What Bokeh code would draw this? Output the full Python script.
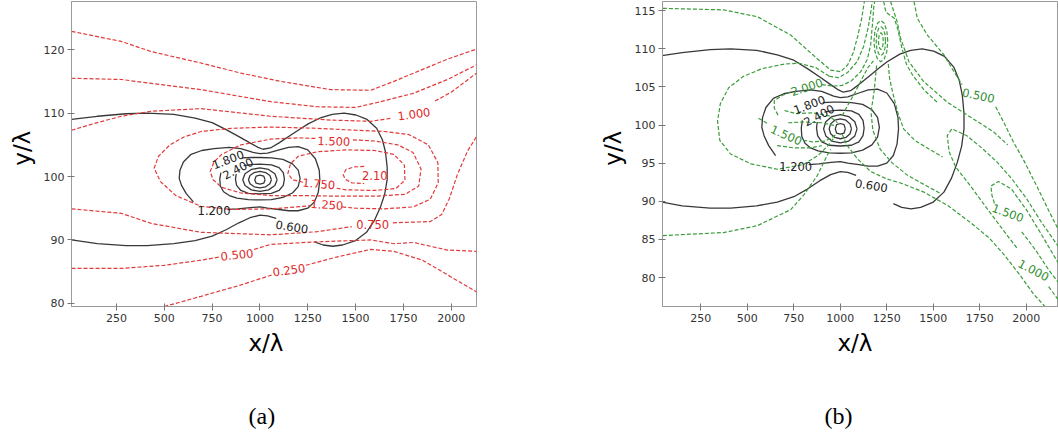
from bokeh.plotting import figure
from bokeh.layouts import row
from bokeh.models import Title, FixedTicker, Range1d
from bokeh.core.properties import value
from bokeh.embed import file_html
from bokeh.resources import INLINE

# ---------------- axes / ticks ----------------
X_TICKS = [250, 500, 750, 1000, 1250, 1500, 1750, 2000]
Y_TICKS_A = [80, 90, 100, 110, 120]
Y_TICKS_B = [80, 85, 90, 95, 100, 105, 110, 115]

# ---------------- black contours (same field in both panels) ----------------
K600_UPPER = [(15,109.0),(150,109.5),(300,109.9),(410,110.0),(550,109.8),(661,109.2),(750,108.5),(823,107.4),
              (890,106.3),(948,105.3),(990,104.6),(1016,104.3),(1055,104.5),(1100,105.3),(1160,106.5),(1210,107.5),
              (1252,108.3),(1320,109.3),(1378,109.8),(1440,110.0),(1502,109.7),(1560,109.0),(1610,107.6),(1640,105.8),
              (1656,103.9),(1665,101.5),(1665,99.5),(1652,97.2),(1629,95.1),(1597,93.0),(1557,91.2),(1500,89.9),
              (1432,89.2),(1380,89.0),(1330,89.2),(1285,89.7)]
K600_LOWER = [(15,90.0),(150,89.4),(300,89.1),(410,89.1),(550,89.4),(661,89.9),(750,90.6),(823,91.6),(890,92.7),
              (948,93.5),(1000,93.9),(1040,93.8),(1085,93.4)]
K1200 = [(830,94.8),(885,94.9),(950,95.1),(1000,95.2),(1040,95.0),(1100,94.8),(1150,94.6),(1200,94.6),(1250,95.0),
         (1285,96.0),(1305,97.5),(1313,99.5),(1310,101.0),(1290,102.8),(1250,104.2),(1200,104.7),(1150,104.6),
         (1100,104.2),(1040,103.7),(1000,103.6),(964,103.8),(900,104.4),(839,104.6),(760,104.4),(696,104.1),
         (640,103.5),(600,102.3),(582,101.0),(578,99.7),(590,98.6),(615,97.3),(652,96.0)]
K1800 = [(905,102.95),(960,103.0),(1000,103.0),(1060,102.95),(1120,102.7),(1170,102.0),(1200,101.0),(1210,99.7),
         (1200,98.4),(1170,97.4),(1120,96.7),(1060,96.35),(1000,96.3),(940,96.35),(880,96.6),(840,97.0),(810,97.6),
         (793,98.5),(790,99.6),(796,100.6)]
K2400 = [(915,101.7),(960,101.9),(1000,101.95),(1060,101.85),(1100,101.4),(1122,100.6),(1128,99.6),(1122,98.6),
         (1100,97.8),(1060,97.35),(1000,97.25),(940,97.35),(900,97.8),(878,98.6),(872,99.6),(876,100.4)]
K3000 = [(1090,99.5),(1078,100.43),(1045,101.11),(1000,101.35),(955,101.11),(922,100.43),(910,99.5),(922,98.57),
         (955,97.89),(1000,97.65),(1045,97.89),(1078,98.57),(1090,99.5)]
K3600 = [(1060,99.5),(1052,100.15),(1030,100.63),(1000,100.8),(970,100.63),(948,100.15),(940,99.5),(948,98.85),
         (970,98.37),(1000,98.2),(1030,98.37),(1052,98.85),(1060,99.5)]
K4200 = [(1027,99.5),(1020,100.05),(1000,100.2),(980,100.05),(973,99.5),(980,98.95),(1000,98.8),(1020,98.95),(1027,99.5)]

BLACK_LABEL_TEXT = ["1.800", "2.400", "1.200", "0.600"]
BLACK_LABEL_X = [833, 885, 760, 1167]
BLACK_LABEL_Y = [102.7, 101.3, 94.6, 92.1]
BLACK_LABEL_ANGLE = [21, 28, 0, -9]

# ---------------- red dashed contours, panel (a) ----------------
RA1 = [(15,122.9),(275,121.3),(432,119.7),(692,117.9),(901,116.3),(1109,115.0),(1370,113.7),(1579,113.6),
       (1700,115.0),(1803,116.3),(1980,118.5),(2132,120.1)]
RA2 = [(15,115.5),(275,115.3),(432,114.7),(692,113.7),(1057,111.8),(1300,111.0),(1500,110.9),(1631,111.8),
       (1800,113.1),(1980,115.3),(2132,117.6)]
RA3_L = [(15,107.3),(150,108.5),(275,109.5),(432,110.3),(692,110.7),(1057,109.5),(1370,108.9),(1579,108.7),(1690,109.2)]
RA3_R = [(1915,111.9),(2000,113.3),(2132,116.3)]
RA4 = [(1430,95.2),(1500,95.0),(1650,94.9),(1800,95.2),(1890,96.4),(1932,99.0),(1930,102.2),(1880,105.0),
       (1780,106.6),(1650,107.1),(1500,107.3),(1300,107.6),(1057,107.8),(850,107.6),(692,107.1),(600,106.2),
       (530,105.0),(470,103.2),(447,101.3),(480,99.2),(560,97.0),(692,95.3),(850,94.8),(1057,94.9),(1150,95.1),(1265,95.4)]
RA5 = [(1290,106.0),(1200,106.1),(1057,105.9),(901,105.0),(800,103.5),(760,102.3),(740,100.8),(755,99.5),
       (800,98.3),(900,97.4),(1057,97.0),(1200,97.0),(1400,96.9),(1600,96.9),(1760,97.2),(1830,98.5),(1842,101.2),
       (1800,103.8),(1720,105.0),(1600,105.6),(1475,105.8)]
RA6 = [(1225,99.1),(1170,99.5),(1146,100.5),(1160,102.0),(1200,103.2),(1300,103.9),(1450,104.2),(1600,104.1),
       (1700,103.5),(1755,101.8),(1758,99.4),(1710,98.1),(1600,97.8),(1450,97.9),(1390,98.2)]
RA7 = [(1545,101.6),(1490,101.5),(1450,101.1),(1435,100.3),(1445,99.6),(1480,99.0),(1545,98.9)]
RA8_L = [(15,94.9),(275,94.2),(432,92.6),(692,91.2),(1057,90.8),(1300,91.3),(1480,92.1)]
RA8_R = [(1695,92.7),(1891,92.9),(1950,94.0),(1990,96.5),(2032,100.3),(2085,104.0),(2132,106.3)]
RA10_L = [(15,85.5),(275,85.5),(500,86.0),(692,86.8),(790,87.3)]
RA10_R = [(970,88.5),(1057,89.3),(1300,89.7),(1579,90.0),(1700,89.4),(1803,89.6),(1980,88.4),(2132,88.2)]
RA11_L = [(500,79.5),(692,81.1),(901,82.9),(1065,84.5)]
RA11_R = [(1240,86.0),(1400,87.3),(1579,88.5),(1700,88.2),(1850,86.8),(1980,84.5),(2132,81.8)]

RED_LABEL_TEXT = ["1.000", "1.500", "1.750", "2.10", "1.250", "0.750", "0.500", "0.250"]
RED_LABEL_X = [1805, 1386, 1308, 1600, 1350, 1589, 880, 1151]
RED_LABEL_Y = [109.9, 105.6, 98.9, 100.1, 95.6, 92.5, 87.7, 85.3]
RED_LABEL_ANGLE = [8, -2, -5, 0, -3, 0, 6, 8]

# ---------------- green dashed contours, panel (b) ----------------
G1 = [(46,115.3),(374,115.1),(554,114.2),(733,111.8),(876,108.7),(948,107.2),(1002,107.0),(1040,107.9),
      (1070,109.5),(1095,111.8),(1115,114.0),(1130,116.3)]
GLOOP = [(940,106.4),(870,107.5),(780,108.1),(700,108.0),(580,107.4),(480,106.4),(400,104.9),(355,102.8),
         (340,100.5),(352,98.0),(410,96.2),(520,94.9),(662,94.2),(800,94.8),(880,96.0),(930,97.2),(965,98.3)]
GU2 = [(940,106.4),(990,106.2),(1040,106.9),(1090,108.3),(1125,110.3),(1150,112.8),(1165,115.0),(1172,116.3)]
G2000_L = [(665,101.3),(645,102.2),(645,103.2),(690,103.9),(740,104.4)]
G2000_R = [(900,105.3),(960,105.1),(1010,105.2),(1060,105.8),(1110,107.0),(1145,108.6),(1163,110.5),(1172,113.0),
           (1180,115.5),(1185,116.3)]
GU4 = [(1010,101.2),(1040,102.6),(1080,104.3),(1115,106.0),(1150,107.6),(1178,108.4)]
GF2 = [(700,101.9),(760,101.5),(850,101.6),(940,101.2),(985,100.3)]
GF3 = [(720,100.3),(800,100.4),(900,100.3),(975,99.9)]
GF4_L = [(560,100.9),(615,100.1)]
GF4_R = [(800,98.0),(850,97.8),(920,97.9),(975,98.7)]
GF5 = [(660,97.3),(750,97.0),(840,97.0),(900,97.3)]
G2 = [(46,85.5),(374,85.9),(554,86.8),(733,88.9),(803,90.8),(877,93.4),(931,96.1),(948,96.8)]
GC1 = [(1255,111.0),(1250,112.35),(1236,113.35),(1218,113.7),(1200,113.35),(1186,112.35),(1181,111.0),(1186,109.65),
       (1200,108.65),(1218,108.3),(1236,108.65),(1250,109.65),(1255,111.0)]
GC2 = [(1243,111.0),(1240,111.95),(1230,112.65),(1218,112.9),(1206,112.65),(1196,111.95),(1193,111.0),(1196,110.05),
       (1206,109.35),(1218,109.1),(1230,109.35),(1240,110.05),(1243,111.0)]
GC3 = [(1231,111.0),(1229,111.55),(1224,111.95),(1218,112.1),(1212,111.95),(1207,111.55),(1205,111.0),(1207,110.45),
       (1212,110.05),(1218,109.9),(1224,110.05),(1229,110.45),(1231,111.0)]
GV1 = [(1195,107.8),(1188,106.0),(1181,104.3),(1165,101.7),(1175,99.3),(1215,96.8),(1280,95.0),(1362,93.4),
       (1450,92.2),(1540,91.0)]
GV2 = [(1258,108.0),(1265,106.1),(1281,104.3),(1308,101.7),(1340,99.5),(1400,98.0),(1480,96.8),(1550,95.8)]
GV3 = [(1010,98.8),(1037,97.3),(1091,95.6),(1163,93.9),(1253,92.9),(1324,92.4),(1450,91.2),(1580,89.4),(1700,87.2),
       (1800,85.2),(1880,83.0),(1960,80.5),(2040,77.8),(2100,76.2)]
GA_L = [(1396,116.2),(1414,114.0),(1468,111.8),(1557,109.2),(1611,107.0),(1655,105.3)]
GA_R = [(1835,102.4),(1880,100.3),(1930,97.8),(1990,95.2),(2060,91.8),(2120,88.8),(2174,86.2)]
GT2 = [(1270,116.2),(1305,113.6),(1324,111.4),(1369,108.3),(1448,105.7),(1575,103.0),(1683,101.3),(1824,99.1),(1900,97.4)]
GT3 = [(1233,116.2),(1245,114.8),(1290,114.0),(1310,112.5),(1330,110.2),(1355,108.0),(1390,106.5),(1450,104.6),(1520,103.0)]
GUA = [(2174,84.0),(2080,87.3),(2000,90.4),(1920,93.0),(1840,95.2),(1760,97.0),(1680,98.6),(1600,99.5),(1575,98.6),
       (1585,96.5),(1620,94.5),(1700,92.0),(1790,89.0),(1870,86.4),(1955,83.7)]
GUA_R = [(2120,78.8),(2174,77.0)]
GUB = [(2174,81.8),(2080,85.7),(2000,88.9),(1920,91.6),(1850,92.6),(1810,92.0),(1815,90.8),(1830,89.6)]
GUB_R = [(1975,86.0),(2050,83.6),(2120,81.0),(2174,79.3)]

GREEN_LABEL_TEXT = ["2.000", "1.500", "0.500", "1.500", "1.000"]
GREEN_LABEL_X = [819, 710, 1743, 1901, 2040]
GREEN_LABEL_Y = [105.0, 98.7, 103.9, 88.5, 81.0]
GREEN_LABEL_ANGLE = [18, -24, -12, -20, -28]

BLACK_LINES = [K600_UPPER, K600_LOWER, K1200, K1800, K2400, K3000, K3600, K4200]
RED_LINES = [RA1, RA2, RA3_L, RA3_R, RA4, RA5, RA6, RA7, RA8_L, RA8_R, RA10_L, RA10_R, RA11_L, RA11_R]
GREEN_LINES = [G1, GLOOP, GU2, G2000_L, G2000_R, GU4, GF2, GF3, GF4_L, GF4_R, GF5, G2, GC1, GC2, GC3,
               GV1, GV2, GV3, GA_L, GA_R, GT2, GT3, GUA, GUA_R, GUB, GUB_R]

FONT = "DejaVu Sans"


def split(lines):
    return [[p[0] for p in l] for l in lines], [[p[1] for p in l] for l in lines]


def title(text, align, offset, font, size, standoff):
    return Title(text=text, align=align, offset=offset, text_font=font, text_font_size=size,
                 text_font_style="normal", text_color="black", standoff=standoff)


def base_fig(xr, yr, w, bl, br, yticks, cap, x_off, cap_off):
    p = figure(width=w, height=434, x_range=Range1d(*xr), y_range=Range1d(*yr),
               output_backend="svg", toolbar_location=None,
               min_border_left=bl, min_border_right=br, min_border_top=1, min_border_bottom=128,
               background_fill_color="white", border_fill_color="white")
    p.grid.visible = False
    p.outline_line_color = "#9a9a9a"
    p.xaxis.ticker = FixedTicker(ticks=X_TICKS)
    p.yaxis.ticker = FixedTicker(ticks=yticks)
    for ax in (p.xaxis[0], p.yaxis[0]):
        ax.axis_line_color = "#9a9a9a"
        ax.major_tick_line_color = "#777777"
        ax.major_tick_in = 3
        ax.major_tick_out = 4
        ax.minor_tick_line_color = None
        ax.major_label_text_font = FONT
        ax.major_label_text_font_size = "11px"
        ax.major_label_text_color = "#333333"
        ax.major_label_standoff = 3
    # y label (leading en-space lifts the glyphs a little above the frame centre)
    p.add_layout(title("\u2002y/λ", "center", 0, FONT, "23px", 12), "left")
    p.add_layout(title("x/λ", "left", x_off, FONT, "23px", 6), "below")
    p.add_layout(title("\u00a0", "left", 0, FONT, "8px", 27), "below")
    p.add_layout(title(cap, "left", cap_off, "Liberation Serif", "24px", 8), "below")
    xs, ys = split(BLACK_LINES)
    p.multi_line(xs, ys, line_color="#383838", line_width=1.3)
    return p


def add_labels(p, xs, ys, texts, angles, color):
    p.text(x=xs, y=ys, text=texts, angle=angles, angle_units="deg", text_color=color,
           text_font=value(FONT), text_font_size="11.5px", text_align="center", text_baseline="middle")


pA = base_fig((15, 2132), (79.5, 127.6), 580, 70, 104, Y_TICKS_A, "(a)", 177, 177)
xs, ys = split(RED_LINES)
pA.multi_line(xs, ys, line_color="#e23a3a", line_width=1.2, line_dash="4 2")
add_labels(pA, RED_LABEL_X, RED_LABEL_Y, RED_LABEL_TEXT, RED_LABEL_ANGLE, "#e02828")
add_labels(pA, BLACK_LABEL_X, BLACK_LABEL_Y, BLACK_LABEL_TEXT, BLACK_LABEL_ANGLE, "#222222")

pB = base_fig((44, 2173), (76.2, 116.2), 478, 82, 0, Y_TICKS_B, "(b)", 175, 162)
xs, ys = split(GREEN_LINES)
pB.multi_line(xs, ys, line_color="#3a9d3a", line_width=1.2, line_dash="4 2")
add_labels(pB, GREEN_LABEL_X, GREEN_LABEL_Y, GREEN_LABEL_TEXT, GREEN_LABEL_ANGLE, "#2f8f2f")
add_labels(pB, BLACK_LABEL_X, BLACK_LABEL_Y, BLACK_LABEL_TEXT, BLACK_LABEL_ANGLE, "#222222")

layout = row(pA, pB)
open("out.html", "w").write(file_html(layout, INLINE))
